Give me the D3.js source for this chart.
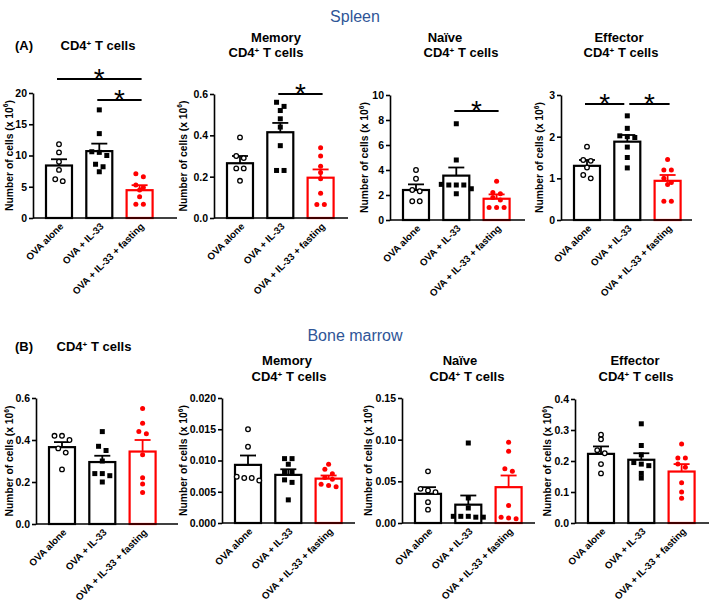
<!DOCTYPE html>
<html><head><meta charset="utf-8">
<script src="https://cdn.jsdelivr.net/npm/d3@7"></script>
<style>
body{margin:0;background:#fff}
svg{display:block}
text{font-family:"Liberation Sans",Arial,sans-serif}
</style>
</head><body>
<svg id="chart" width="709" height="607"></svg>
<script>
// ---------------- DATA ----------------
const groups = ["OVA alone", "OVA + IL-33", "OVA + IL-33 + fasting"];
const sections = ["Spleen", "Bone marrow"];
const panelTags = ["(A)", "(B)"];
const cellTypes = [[], ["Memory"], ["Naïve"], ["Effector"]];
const yLabel = "Number of cells (x 10";

// Spleen – CD4+ T cells
const spCD4Mean = [8.4, 10.7, 4.45];
const spCD4Sem = [1.0, 1.2, 0.8];
const spCD4Pts = [[11.8, 10.5, 9.0, 7.7, 6.2, 5.9],
                  [17.3, 13.5, 10.6, 10.5, 10.0, 8.6, 8.2, 7.4],
                  [7.1, 6.6, 5.3, 4.9, 4.5, 3.4, 2.2, 2.2]];
const spCD4Ticks = [0, 5, 10, 15, 20];
const spCD4Sig = [[0, 2, "*"], [1, 2, "*"]];

// Spleen – Memory CD4+ T cells
const spMemMean = [0.265, 0.415, 0.195];
const spMemSem = [0.035, 0.045, 0.04];
const spMemPts = [[0.39, 0.30, 0.29, 0.24, 0.24, 0.18],
                  [0.56, 0.54, 0.52, 0.48, 0.44, 0.35, 0.23, 0.23],
                  [0.34, 0.30, 0.25, 0.22, 0.19, 0.12, 0.065, 0.065]];
const spMemTicks = [0.0, 0.2, 0.4, 0.6];
const spMemSig = [[1, 2, "*"]];

// Spleen – Naïve CD4+ T cells
const spNaiMean = [2.4, 3.55, 1.7];
const spNaiSem = [0.45, 0.65, 0.35];
const spNaiPts = [[4.0, 3.3, 2.4, 2.3, 1.5, 1.5],
                  [7.7, 4.8, 2.85, 2.8, 2.8, 2.8, 2.5, 2.1],
                  [3.1, 2.2, 2.1, 1.8, 1.6, 1.0, 1.0, 1.0]];
const spNaiTicks = [0, 2, 4, 6, 8, 10];
const spNaiSig = [[1, 2, "*"]];

// Spleen – Effector CD4+ T cells
const spEffMean = [1.30, 1.88, 0.94];
const spEffSem = [0.14, 0.16, 0.14];
const spEffPts = [[1.76, 1.44, 1.42, 1.26, 1.08, 1.0],
                  [2.5, 2.2, 2.02, 2.0, 1.98, 1.75, 1.5, 1.25],
                  [1.45, 1.2, 1.2, 1.0, 0.9, 0.85, 0.45, 0.45]];
const spEffTicks = [0, 1, 2, 3];
const spEffSig = [[0, 1, "*"], [1, 2, "*"]];

// Bone marrow – CD4+ T cells
const bmCD4Mean = [0.366, 0.295, 0.345];
const bmCD4Sem = [0.024, 0.03, 0.055];
const bmCD4Pts = [[0.42, 0.42, 0.40, 0.36, 0.34, 0.26],
                  [0.44, 0.37, 0.35, 0.30, 0.24, 0.24, 0.23, 0.20],
                  [0.55, 0.48, 0.44, 0.43, 0.33, 0.22, 0.19, 0.15]];
const bmCD4Ticks = [0.0, 0.2, 0.4, 0.6];

// Bone marrow – Memory CD4+ T cells
const bmMemMean = [0.0093, 0.0077, 0.0071];
const bmMemSem = [0.0015, 0.0009, 0.0005];
const bmMemPts = [[0.015, 0.0122, 0.0074, 0.0072, 0.0072, 0.0068],
                  [0.0103, 0.0103, 0.0094, 0.0082, 0.0082, 0.0069, 0.0065, 0.0037],
                  [0.0094, 0.0086, 0.0079, 0.0073, 0.0070, 0.0062, 0.0060, 0.0058]];
const bmMemTicks = [0.000, 0.005, 0.010, 0.015, 0.020];

// Bone marrow – Naïve CD4+ T cells
const bmNaiMean = [0.035, 0.022, 0.043];
const bmNaiSem = [0.008, 0.011, 0.014];
const bmNaiPts = [[0.062, 0.041, 0.039, 0.037, 0.025, 0.016],
                  [0.096, 0.030, 0.018, 0.008, 0.008, 0.008, 0.007, 0.007],
                  [0.097, 0.086, 0.065, 0.062, 0.021, 0.007, 0.006, 0.005]];
const bmNaiTicks = [0.00, 0.05, 0.10, 0.15];

// Bone marrow – Effector CD4+ T cells
const bmEffMean = [0.223, 0.204, 0.166];
const bmEffSem = [0.024, 0.021, 0.024];
const bmEffPts = [[0.285, 0.27, 0.235, 0.225, 0.19, 0.16],
                  [0.32, 0.25, 0.22, 0.195, 0.19, 0.185, 0.16, 0.145],
                  [0.255, 0.21, 0.21, 0.19, 0.18, 0.13, 0.10, 0.08]];
const bmEffTicks = [0.0, 0.1, 0.2, 0.3, 0.4];

// ---------------- LAYOUT ----------------
const RED = "#ff0000", BLUE = "#2f5597";
const panels = [
  {mean: spCD4Mean, sem: spCD4Sem, pts: spCD4Pts, ticks: spCD4Ticks, fmt: "d", sig: spCD4Sig, sigY: [79, 100],
   ax: 33, yTop: 93, y0: 218, end: 177, labelX: 12.5, type: 0, tag: 0, titleX: [98], titleY: [50]},
  {mean: spMemMean, sem: spMemSem, pts: spMemPts, ticks: spMemTicks, fmt: ".1f", sig: spMemSig, sigY: [94],
   ax: 214, yTop: 94, y0: 218, end: 348, labelX: 186.5, type: 1, titleX: [276, 266], titleY: [42, 57]},
  {mean: spNaiMean, sem: spNaiSem, pts: spNaiPts, ticks: spNaiTicks, fmt: "d", sig: spNaiSig, sigY: [111],
   ax: 390, yTop: 95, y0: 220, end: 525, labelX: 368, type: 2, titleX: [445, 461], titleY: [42, 57]},
  {mean: spEffMean, sem: spEffSem, pts: spEffPts, ticks: spEffTicks, fmt: "d", sig: spEffSig, sigY: [104, 104],
   ax: 561, yTop: 95, y0: 220, end: 692, labelX: 543, type: 3, titleX: [619, 621], titleY: [42, 57]},
  {mean: bmCD4Mean, sem: bmCD4Sem, pts: bmCD4Pts, ticks: bmCD4Ticks, fmt: ".1f", sig: [], sigY: [],
   ax: 36, yTop: 398, y0: 524, end: 178, labelX: 13, type: 0, tag: 1, titleX: [94], titleY: [351]},
  {mean: bmMemMean, sem: bmMemSem, pts: bmMemPts, ticks: bmMemTicks, fmt: ".3f", sig: [], sigY: [],
   ax: 222, yTop: 398, y0: 523, end: 355, labelX: 187, type: 1, titleX: [287, 289], titleY: [365, 381]},
  {mean: bmNaiMean, sem: bmNaiSem, pts: bmNaiPts, ticks: bmNaiTicks, fmt: ".2f", sig: [], sigY: [],
   ax: 402, yTop: 398, y0: 523, end: 535, labelX: 372, type: 2, titleX: [460, 467], titleY: [365, 381]},
  {mean: bmEffMean, sem: bmEffSem, pts: bmEffPts, ticks: bmEffTicks, fmt: ".1f", sig: [], sigY: [],
   ax: 575, yTop: 399, y0: 523, end: 709, labelX: 551, type: 3, titleX: [635, 636], titleY: [365, 381]}
];

const svg = d3.select("#chart");

// section headers
svg.selectAll("text.section").data(sections).join("text")
  .attr("class", "section")
  .attr("x", 355).attr("y", (d, i) => i === 0 ? 22 : 341)
  .attr("text-anchor", "middle").attr("font-size", 16).attr("fill", BLUE)
  .text(d => d);

function cd4Title(sel) {
  sel.append("tspan").text("CD4");
  sel.append("tspan").attr("font-size", "0.62em").attr("dy", "-0.55em").text("+");
  sel.append("tspan").attr("dy", "0.34em").text(" T cells");
}

function dodge(vals, y) {
  // group points with similar pixel height into rows, spread rows symmetrically
  const items = vals.map(v => ({v, py: y(v)})).sort((a, b) => a.py - b.py);
  const rows = [];
  items.forEach(it => {
    const r = rows[rows.length - 1];
    if (r && Math.abs(it.py - r[0].py) < 4.5) r.push(it); else rows.push([it]);
  });
  rows.forEach(r => r.forEach((it, k) => { it.dx = (k - (r.length - 1) / 2) * 7.5; }));
  return items;
}

panels.forEach(p => {
  const g = svg.append("g");
  const y = d3.scaleLinear().domain([p.ticks[0], p.ticks[p.ticks.length - 1]]).range([p.y0, p.yTop]);
  const x = d3.scaleBand().domain(groups).range([p.ax + 13, p.ax + 13 + 106.6]).paddingInner(0.355).paddingOuter(0);
  const bw = x.bandwidth();
  const cx = i => x(groups[i]) + bw / 2;
  const col = i => i === 2 ? RED : "#000";

  // y axis
  const ya = g.append("g").attr("transform", `translate(${p.ax},0)`)
    .call(d3.axisLeft(y).tickValues(p.ticks).tickFormat(d3.format(p.fmt)).tickSize(4).tickSizeOuter(0).tickPadding(2));
  ya.select(".domain").attr("stroke-width", 1.6);
  ya.selectAll(".tick line").attr("stroke-width", 1.6);
  ya.selectAll(".tick text").attr("font-size", 10.5).attr("font-weight", "bold")
    .attr("font-family", "'Liberation Sans', Arial, sans-serif").attr("fill", "#000");

  // y label
  const yl = g.append("text")
    .attr("transform", `translate(${p.labelX},${(p.yTop + p.y0) / 2}) rotate(-90)`)
    .attr("text-anchor", "middle").attr("font-size", 10.3).attr("font-weight", "bold");
  yl.append("tspan").text(yLabel);
  yl.append("tspan").attr("font-size", "0.65em").attr("dy", "-0.6em").text("6");
  yl.append("tspan").attr("dy", "0.39em").text(")");

  // bars
  g.selectAll("rect.bar").data(p.mean).join("rect").attr("class", "bar")
    .attr("x", (d, i) => x(groups[i])).attr("y", d => y(d))
    .attr("width", bw).attr("height", d => p.y0 - y(d))
    .attr("fill", "#fff").attr("stroke", (d, i) => col(i)).attr("stroke-width", 2.2);

  // error bars (upper)
  p.mean.forEach((m, i) => {
    const top = y(m + p.sem[i]);
    g.append("line").attr("x1", cx(i)).attr("x2", cx(i)).attr("y1", y(m)).attr("y2", top)
      .attr("stroke", col(i)).attr("stroke-width", 1.8);
    g.append("line").attr("x1", cx(i) - 8).attr("x2", cx(i) + 8).attr("y1", top).attr("y2", top)
      .attr("stroke", col(i)).attr("stroke-width", 1.8);
  });

  // x axis
  const xa = g.append("g").attr("transform", `translate(0,${p.y0})`)
    .call(d3.axisBottom(x).tickSize(0).tickSizeOuter(0));
  xa.select(".domain").remove();
  xa.selectAll(".tick text").attr("x", 0).attr("y", 0).attr("dy", null)
    .attr("transform", "translate(5,9) rotate(-45)").attr("text-anchor", "end")
    .attr("font-size", 9.7).attr("font-weight", "bold")
    .attr("font-family", "'Liberation Sans', Arial, sans-serif").attr("fill", "#000");
  g.append("line").attr("x1", p.ax).attr("x2", p.end).attr("y1", p.y0).attr("y2", p.y0)
    .attr("stroke", "#000").attr("stroke-width", 1.6);

  // points
  p.pts.forEach((vals, i) => {
    const items = dodge(vals, y);
    const pg = g.append("g");
    if (i === 0) {
      pg.selectAll("circle").data(items).join("circle")
        .attr("cx", d => cx(i) + d.dx).attr("cy", d => d.py).attr("r", 2.3)
        .attr("fill", "#fff").attr("stroke", "#000").attr("stroke-width", 1.3);
    } else if (i === 1) {
      pg.selectAll("rect").data(items).join("rect")
        .attr("x", d => cx(i) + d.dx - 2.5).attr("y", d => d.py - 2.5)
        .attr("width", 5).attr("height", 5).attr("fill", "#000");
    } else {
      pg.selectAll("circle").data(items).join("circle")
        .attr("cx", d => cx(i) + d.dx).attr("cy", d => d.py).attr("r", 2.5).attr("fill", RED);
    }
  });

  // significance brackets
  p.sig.forEach((s, k) => {
    const [a, b, lab] = s;
    const ly = p.sigY[k];
    const shareLeft = p.sig.some((t, m) => m !== k && p.sigY[m] === ly && t[1] === a);
    const shareRight = p.sig.some((t, m) => m !== k && p.sigY[m] === ly && t[0] === b);
    const x1 = shareLeft ? cx(a) + 2 : cx(a) - 2;
    const x2 = shareRight ? cx(b) - 3 : cx(b) + 2;
    g.append("line").attr("x1", x1).attr("x2", x2).attr("y1", ly).attr("y2", ly)
      .attr("stroke", "#000").attr("stroke-width", 2);
    g.append("text").attr("x", (x1 + x2) / 2).attr("y", ly + 9)
      .attr("text-anchor", "middle").attr("font-size", 28).text(lab);
  });

  // titles
  const lines = cellTypes[p.type].length ? [cellTypes[p.type][0], null] : [null];
  lines.forEach((ln, k) => {
    const t = g.append("text").attr("x", p.titleX[k]).attr("y", p.titleY[k])
      .attr("text-anchor", "middle").attr("font-size", 13).attr("font-weight", "bold");
    if (ln) t.text(ln); else cd4Title(t);
  });
  if (p.tag !== undefined) {
    g.append("text").attr("x", 15).attr("y", p.titleY[0]).attr("font-size", 13)
      .attr("font-weight", "bold").text(panelTags[p.tag]);
  }
});
</script>
</body></html>
